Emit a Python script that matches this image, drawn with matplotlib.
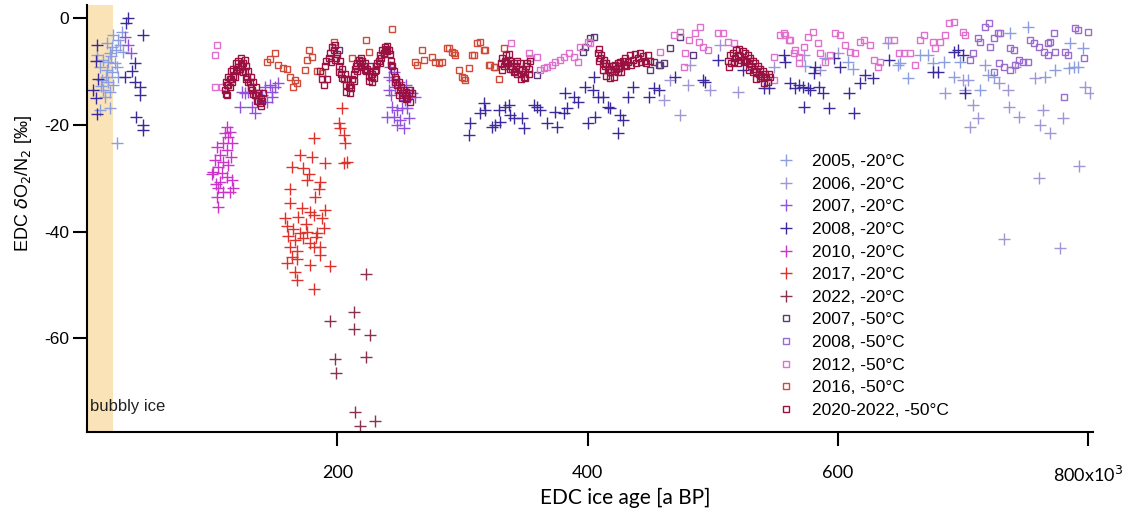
import numpy as np
import matplotlib.pyplot as plt

# ages in ka, d(O2/N2) in permil

# -20 C crosses
age_2005 = [16, 21, 25, 28, 18, 13, 17, 22, 10, 16, 20, 24, 12, 17, 21, 13, 18, 14, 10, 18, 24, 26, 29, 8, 25,
            19, 23, 15, 20, 11,
            640, 648, 650, 656, 666, 672, 676, 685, 693, 698, 704, 714, 720, 725, 738, 752, 766, 774, 785, 789,
            792, 796, 786, 574, 590, 608, 612]
val_2005 = [-4.7, -3.2, -4.1, -2.6, -6.5, -7.9, -8.2, -8.4, -9.2, -9.7, -10.1, -9.2, -11.6, -12, -12.5, -13.5,
            -13.8, -14.8, -17.2, -16.8, -23.4, -5, -6.3, -6.9, -11, -7.2, -6, -11, -5.5, -12.8,
            -4.7, -8.8, -8.4, -11.2, -6.9, -6.9, -8.4, -8.2, -11, -8.2, -11.6, -13.5, -10.7, -11, -2.8, -1.7, -11,
            -9.7, -9.4, -9.2, -9.2, -5.6, -4.7, -9, -7.5, -8.2, -9.5]

age_2006 = [686, 700, 702, 708, 712, 706, 718, 729, 736, 737, 745, 742, 758, 764, 762, 770, 780, 798, 802, 793,
            761, 733, 778, 482, 466, 474, 480, 461, 498, 520, 506, 549, 573, 586, 600]
val_2006 = [-14, -11.6, -13.5, -16.3, -18.7, -20.4, -8.8, -12.2, -13.5, -16.6, -18.5, -9.2, -11.2, -17.2, -20,
            -21.5, -18.7, -12.9, -14, -27.7, -29.9, -41.3, -43, -8.8, -11.6, -18.1, -12.5, -15.3, -13.5, -13.8, -5,
            -9.2, -7, -9.8, -6.5]

age_2007 = [242, 241, 244, 246, 241, 250, 254, 244, 248, 252, 256, 240, 245, 250, 257, 248, 253, 260, 258, 245,
            249, 262, 243, 255,
            124, 126, 129, 122, 132, 134, 144, 148, 150, 146, 148, 140, 153, 137, 142,
            33, 35, 30]
val_2007 = [-9.2, -11, -11.6, -12.9, -13.5, -14, -15.3, -16.6, -17.2, -16.8, -16.8, -18.5, -18.5, -19.1, -18.7,
            -20, -20.6, -14, -14.8, -10.1, -12, -14.8, -14.5, -12.5,
            -13.8, -14, -13.8, -16.6, -16.6, -17.8, -15.7, -13.8, -12.9, -12.5, -14.8, -14.4, -12.2, -15, -13,
            -5, -6.6, -3.5]

age_2008 = [33, 31, 45, 8, 7, 9, 5, 7, 8, 38, 36, 38, 42, 42, 39, 45, 45, 30,
            306, 305, 314, 317, 318, 324, 326, 329, 330, 334, 337, 338, 341, 348, 349, 357, 360, 362, 368, 374,
            376, 381, 384, 382, 389, 392, 398, 400, 404, 406, 408, 412, 416, 418, 424, 426, 428, 405, 432, 436,
            449, 453, 457, 470, 494, 492, 504, 524, 541, 545, 562, 566,
            557, 558, 569, 572, 573, 576, 578, 581, 582, 585, 588, 593, 597, 602, 609, 613, 618, 622, 628, 641,
            676, 680, 693, 696, 700, 702]
val_2008 = [0, -0.9, -3.2, -5, -8, -11.5, -13.5, -15, -18, -8.5, -10, -12, -13, -14.5, -18.5, -20, -21, -11,
            -19.6, -21.9, -17.8, -15.9, -17.2, -20.4, -20, -17.2, -19.4, -16.6, -16.3, -18.1, -18.7, -18.7, -20.6,
            -16.3, -16.6, -17.2, -19.6, -17.6, -20.4, -17.8, -16.8, -14, -14.8, -15.7, -12.9, -19.6, -13.5, -18.5,
            -14.8, -14.8, -16.6, -16.8, -21.5, -18.1, -19.1, -11, -14.8, -12.9, -14.8, -13.1, -13.5, -11, -12,
            -11.6, -7.9, -9.7, -13.1, -13.1, -12.2, -13.1,
            -6.9, -8.2, -12.5, -12.9, -16.6, -13.1, -13.5, -10.3, -9.2, -12.9, -14, -16.8, -7.5, -9.2, -14, -17.8,
            -12.2, -10.7, -11.2, -7.9, -10.1, -10.1, -6.3, -6, -6.9, -14]

age_2010 = [112, 114, 113, 109, 116, 104, 112, 106, 102, 109, 113, 105, 101, 108, 112, 116, 106, 117, 105, 109,
            104, 105, 114, 100, 110, 103, 115]
val_2010 = [-20.4, -21.3, -22.2, -23.4, -23.4, -24.1, -24.7, -25.6, -26.5, -26.9, -27.5, -27.9, -28.8, -29,
            -29.7, -30.3, -30.7, -31.8, -31.8, -32.5, -33.6, -35.3, -32.5, -29.3, -21.5, -31, -26]

age_2017 = [181, 204, 201, 202, 205, 206, 208, 205, 170, 180, 190, 164, 173, 177, 176, 186, 185, 162, 162, 182,
            172, 178, 190, 158, 169, 181, 188, 160, 165, 170, 176, 184, 189, 161, 166, 173, 178, 186, 162, 181,
            168, 164, 186, 160, 168, 178, 166, 168, 181, 194, 175, 183]
val_2017 = [-22.4, -16.8, -19.6, -20.6, -21.9, -23.4, -26.9, -27.1, -25.6, -26, -27.1, -27.9, -28, -29.3, -30.3,
            -30.7, -32.1, -32.1, -34.6, -33.6, -35.5, -36.3, -35.9, -37.4, -37.2, -36.8, -37.4, -39, -39.6, -40.2,
            -40, -40.2, -39.3, -40.9, -41.5, -41.1, -42.1, -42.8, -42.8, -42.8, -43.7, -44.7, -44.3, -45.8, -45.2,
            -46.2, -47.5, -49, -50.8, -46.5, -38.5, -41]

age_2022 = [223, 194, 213, 213, 226, 223, 198, 199, 214, 218, 230]
val_2022 = [-47.9, -56.8, -55.1, -58.3, -59.3, -63.4, -63.9, -66.4, -73.8, -76.4, -75.5]

# -50 C squares
age_2007s = [402, 405, 398, 396, 453, 457, 461, 450, 360, 466, 474, 484, 458, 201, 226]
val_2007s = [-3.7, -3.6, -5.4, -6.3, -8.2, -8.8, -8.4, -9.7, -10.7, -5.6, -3.6, -6.9, -8.8, -6, -9]

age_2008s = [712, 714, 718, 721, 722, 725, 728, 730, 708, 706, 738, 741, 742, 738, 748, 752, 754, 757, 761, 765,
             768, 768, 770, 773, 774, 782, 784, 790, 792, 800, 797, 781, 745, 733, 729, 725]
val_2008s = [-3.7, -4.5, -1.7, -0.9, -5.4, -3.7, -2.8, -2.8, -6.5, -7.9, -5.6, -6, -8.8, -9.7, -8.2, -8.2, -4.1,
             -4.7, -5.4, -6.3, -6.9, -4.7, -4.5, -2.8, -6.3, -6.3, -6.9, -1.9, -2.2, -2.6, -7.5, -14.8, -7.9, -9.2,
             -8.4, -10.1]

age_2012s = [104, 102, 102, 108,
             339, 353, 354, 360, 362, 365, 368, 372, 374, 378, 381, 385, 389, 392, 394, 400, 402,
             458, 469, 474, 481, 486, 489, 492, 496, 490, 504, 508, 512, 517, 549, 549, 554, 558, 561, 565, 569,
             478, 477,
             557, 562, 566, 569, 573, 576, 580, 584, 586, 590, 594, 598, 602, 606, 610, 614, 618, 621, 626, 629,
             632, 634, 640, 645, 649, 653, 658, 662, 666, 669, 676, 678, 682, 686, 689, 693, 700, 702]
val_2012s = [-5, -7, -13, -13,
             -4.7, -6.5, -7.5, -7.3, -9.7, -9.4, -9.2, -8.8, -8.2, -7.9, -7.3, -6.5, -7.3, -8.2, -5.4, -4.5, -4.7,
             -6.3, -3.2, -2.6, -4.1, -2.8, -4.5, -5.4, -6, -1.7, -2.8, -2.8, -4.5, -4.7, -11.6, -7.3, -3.2, -3.2,
             -4.1, -6.5, -8.4, -6.5, -9.2,
             -2.8, -4.1, -6, -7.3, -5.4, -3.6, -2.6, -4.7, -6.5, -8.2, -6.9, -2.8, -3.2, -5, -6.3, -6.5, -4.5, -4.1,
             -5, -7.9, -9.2, -8.2, -4.1, -4.1, -6.5, -6.5, -6.5, -8.8, -4.1, -3.2, -4.5, -5.6, -4.5, -3.2, -0.9,
             -0.7, -2.6, -3.2]

age_2016s = [144, 146, 150, 153, 157, 160, 162, 166, 165, 168, 174, 176, 177, 180, 184, 188,
             244, 268, 262, 264, 269, 276, 278, 281, 284, 289, 292, 294, 297, 300, 302, 305, 308, 312,
             197, 223, 225, 212, 314, 318, 309, 322, 326, 329, 333, 288, 293, 301, 317, 321, 325]
val_2016s = [-8.2, -7.7, -6.5, -8.8, -9.4, -9.5, -11, -11.6, -12.9, -12.2, -9.7, -7.9, -6, -7.3, -10, -10.3,
             -2, -6, -8.2, -8.8, -7.8, -7.3, -8.2, -8.4, -8.2, -5.6, -6.3, -6.9, -9.7, -11, -11.6, -9.4, -6.9, -4.7,
             -4.5, -4.1, -6.3, -7.5, -4.5, -6, -6.9, -8.8, -9.2, -11.4, -5.6, -5.6, -6.5, -11.2, -6, -8.8, -9.2]

age_2020s = [110, 111, 112, 113, 114, 115, 116, 117, 118, 119, 120, 121, 122, 123, 124, 125, 126, 127, 128, 129,
             130, 131, 132, 133, 134, 135, 136, 137, 138, 139, 140, 141, 112, 114, 126,
             186, 188, 190, 191, 193, 194, 196, 197, 198, 199, 200, 201, 202, 203, 204, 205, 206, 207, 208, 209,
             210, 211, 212, 213, 214, 215, 216, 217, 218, 219, 220, 221, 222, 223, 224, 225, 226, 227, 228, 229,
             230, 231, 232, 233, 234, 235, 236, 237, 238, 239, 240, 241, 242, 243, 244, 245, 246, 247, 248, 249,
             250, 251, 252, 253, 254, 255, 256, 257, 258, 260,
             331, 332, 333, 334, 335, 336, 337, 338, 339, 340, 341, 342, 343, 344, 345, 346, 347, 348, 349, 350,
             351, 352, 353, 354,
             408, 409, 410, 411, 412, 413, 414, 415, 416, 417, 418, 419, 420, 421, 422, 423, 424, 425, 426, 427,
             428, 429, 430, 432, 434, 436, 438, 440, 442, 444, 446, 448, 450,
             512, 514, 515, 516, 518, 519, 520, 521, 522, 524, 525, 526, 527, 528, 529, 530, 531, 532, 533, 534,
             535, 536, 537, 538, 539, 540, 541, 542, 543, 545, 546,
             # second layer that thickens the dense bands
             111, 113, 115, 117, 119, 121, 123, 125, 127, 129, 131, 133, 135, 137, 139,
             189, 192, 195, 198, 201, 204, 207, 210, 213, 216, 219, 222, 225, 228, 231, 234, 237, 240, 243, 246,
             249, 252, 255, 258,
             332, 335, 338, 341, 344, 347, 350, 353,
             409, 412, 415, 418, 421, 424, 427, 431, 435, 439, 443, 447,
             513, 517, 520, 523, 526, 529, 532, 535, 538, 541, 544]
val_2020s = [-13.5, -12, -14.5, -11, -13, -10, -12, -9.5, -11, -8.5, -10, -8, -9.5, -7.5, -9, -8.5, -10, -9, -11,
             -10, -12, -11, -13.5, -12, -14.5, -13, -15.5, -14, -16, -15, -15.5, -14, -12.5, -11.5, -7.8,
             -10, -11.5, -9, -8, -7.5, -6.5, -5.5, -6, -5, -7.5, -6.8, -9, -8, -10.5, -9.5, -11.5, -10.5, -12.5,
             -11.5, -13, -12.5, -13.2, -11.5, -10.5, -9.5, -9, -8.5, -7.8, -8.5, -7.5, -8, -9, -8.5, -10, -9.5,
             -10.8, -10, -11, -10.5, -11.2, -10, -9, -8.5, -8, -7, -7.5, -6, -6.5, -5.4, -5.8, -5.2, -6, -6.8, -8,
             -9, -10, -11, -11.5, -12.5, -12, -13.5, -13, -14, -13.5, -14.5, -13.8, -15, -14, -13.5, -14,
             -8.5, -7.5, -9, -8, -7, -8.5, -6.8, -8, -9, -9.5, -8.5, -10, -9, -8, -9.5, -8.5, -10.5, -9.8, -11,
             -10.2, -9, -8.5, -9.5, -8,
             -6.5, -5.8, -7.5, -7, -8.5, -7.8, -9, -8.5, -9.8, -9, -10.2, -9.5, -9, -10, -8.8, -9.5, -8.5, -9.3,
             -8.2, -9, -8, -8.8, -7.5, -8.2, -7, -7.8, -6.8, -7.5, -6.5, -7.2, -8, -7, -8,
             -8, -7, -8.5, -6.5, -7.5, -6, -7, -5.8, -7.2, -6.2, -7.8, -6.5, -8, -7, -8.5, -7.5, -9, -8, -9.5,
             -8.5, -10, -9, -10.5, -9.5, -10.8, -10, -11.2, -10.5, -11, -10.5, -11,
             -14.2, -12.5, -11.5, -10.8, -9.8, -9.2, -8.8, -10.2, -11.5, -12, -13, -14.2, -14.5, -15.5, -16.5,
             -12.5, -11.5, -8.2, -7.8, -10.2, -11.2, -13.8, -14, -11.8, -10, -9.2, -9.8, -11.8, -12, -9.8, -8.5,
             -6.8, -6.2, -8.8, -12, -14.5, -15, -15.2, -15.8,
             -9.8, -8.2, -9.5, -10.2, -10.5, -11.5, -11.2, -10.5,
             -8, -9.8, -10.8, -11.2, -11, -10.2, -10.2, -9, -8.8, -8.5, -8.2, -8.5,
             -9.2, -8.2, -8.5, -7.8, -8.2, -9.8, -10.2, -11.5, -11.2, -12.2, -12]

cross_series = [
    ("2005, -20°C", age_2005, val_2005, "#8c9ee0"),
    ("2006, -20°C", age_2006, val_2006, "#a394d6"),
    ("2007, -20°C", age_2007, val_2007, "#9150e0"),
    ("2008, -20°C", age_2008, val_2008, "#3b2a9e"),
    ("2010, -20°C", age_2010, val_2010, "#cc33cc"),
    ("2017, -20°C", age_2017, val_2017, "#e0302a"),
    ("2022, -20°C", age_2022, val_2022, "#8b3050"),
]
square_series = [
    ("2007, -50°C", age_2007s, val_2007s, "#5a3a7a"),
    ("2008, -50°C", age_2008s, val_2008s, "#9a6cd0"),
    ("2012, -50°C", age_2012s, val_2012s, "#e070cc"),
    ("2016, -50°C", age_2016s, val_2016s, "#d04a3a"),
    ("2020-2022, -50°C", age_2020s, val_2020s, "#9a1040"),
]

plt.rcParams['font.family'] = ['Liberation Sans', 'DejaVu Sans']

fig = plt.figure(figsize=(11.29, 5.13), dpi=100)
ax = fig.add_axes([0.0771, 0.158, 0.891, 0.832])

# bubbly ice zone
ax.axvspan(0, 21, color="#fbe3b8", lw=0, zorder=0)
ax.text(2, -73.5, "bubbly ice", fontsize=12, color="#222222")

for label, a, v, c in cross_series:
    ax.plot(a, v, linestyle="none", marker="+", ms=8, mew=1.0, color=c, label=label)
for label, a, v, c in square_series:
    ax.plot(a, v, linestyle="none", marker="s", ms=4.5, mew=1.0, mfc="none", mec=c, label=label)

ax.set_xlim(0, 804)
ax.set_ylim(-77.5, 2.4)
ax.set_xticks([200, 400, 600, 800])
ax.set_xticklabels(["200", "400", "600", "800x10$^3$"], family=["Lato", "DejaVu Sans"])
ax.set_yticks([0, -20, -40, -60])
ax.set_yticklabels(["0", "-20", "-40", "-60"])
ax.tick_params(axis="x", direction="out", length=10, width=1.5, pad=14, labelsize=13)
ax.tick_params(axis="y", direction="out", length=10, width=1.5, pad=3, labelsize=12.5)
for s in ["top", "right"]:
    ax.spines[s].set_visible(False)
for s in ["left", "bottom"]:
    ax.spines[s].set_linewidth(1.5)

ax.set_xlabel("EDC ice age [a BP]", fontsize=15, family=["Lato", "DejaVu Sans"])
ax.xaxis.set_label_coords(0.535, -0.13)
ax.set_ylabel(r"EDC $\delta$O$_2$/N$_2$ [‰]", fontsize=13)
ax.yaxis.set_label_coords(-0.053, 0.583)

ax.legend(loc="upper left", bbox_to_anchor=(776 / 1129, 1 - 154 / 513), bbox_transform=fig.transFigure,
          frameon=False, fontsize=12.5, handlelength=1.2, handletextpad=0.9, labelspacing=0.43,
          borderaxespad=0, borderpad=0)

fig.savefig("out.png", dpi=100)
